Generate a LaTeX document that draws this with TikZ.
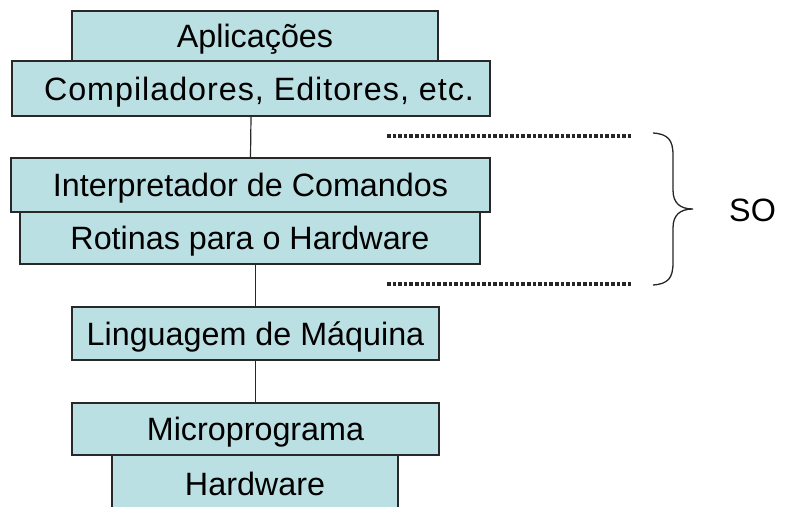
\documentclass[tikz,border=0pt]{standalone}
\usepackage{fontspec}
\setmainfont{Liberation Sans}
\definecolor{layerfill}{RGB}{187,224,227}
\definecolor{layerline}{RGB}{40,40,40}
\begin{document}
\begin{tikzpicture}[x=1pt,y=-1pt,
  label font/.style={font=\fontsize{32.3}{39}\selectfont,text height=23.2pt,text depth=0pt},
  layer/.style={draw=layerline,fill=layerfill,line width=1.2pt,rectangle,inner sep=0pt,label font},
  link/.style={draw=layerline,line width=1.2pt},
  bound/.style={draw=black!85,line width=3.4pt,dash pattern=on 3.6pt off 2pt},
  brace/.style={draw=black!85,line width=1.3pt}]
\clip (0,0) rectangle (787,506);
\fill[white] (0,0) rectangle (787,506);

% layer stack
\node[layer,minimum width=366pt,minimum height=50pt] (apl) at (255,36) {Aplicações};
\node[layer,minimum width=478pt,minimum height=55pt] (comp) at (251,88.5) {\hspace*{16pt}\addfontfeature{LetterSpace=3}Compiladores, Editores, etc.};
\node[layer,minimum width=479pt,minimum height=54pt] (interp) at (250.5,185) {Interpretador de Comandos};
\node[layer,minimum width=460pt,minimum height=52pt] (rot) at (250,238) {Rotinas para o Hardware};
\node[layer,minimum width=367pt,minimum height=53pt] (ling) at (255.5,333.5) {Linguagem de Máquina};
\node[layer,minimum width=367pt,minimum height=52pt] (micro) at (255.5,429) {Microprograma};
\node[layer,minimum width=286pt,minimum height=57pt] (hw) at (255,483.5) {Hardware};
\draw[link] (micro.south west) -- (micro.south east);

% links between groups
\draw[link] (comp.south) -- (interp.north);
\draw[link] (ling.north |- rot.south) -- (ling.north);
\draw[link] (ling.south) -- (micro.north);

% operating system bounds
\coordinate (t1) at (387,136);
\coordinate (t2) at (632,136);
\coordinate (b1) at (387,284);
\coordinate (b2) at (632,284);
\draw[bound] (t1) -- (t2);
\draw[bound] (b1) -- (b2);

% brace
\coordinate (bt) at (653,133);
\coordinate (bm) at (693,209);
\coordinate (bb) at (653,285);
\draw[brace] (bt) .. controls (668,134) and (673,140) .. (673,155)
  -- (673,190) .. controls (673,203) and (680,209) .. (bm)
  .. controls (680,209) and (673,215) .. (673,228)
  -- (673,263) .. controls (673,278) and (668,284) .. (bb);
\node[label font,inner sep=0pt,anchor=west] (so) at (729,210) {SO};
\end{tikzpicture}
\end{document}
